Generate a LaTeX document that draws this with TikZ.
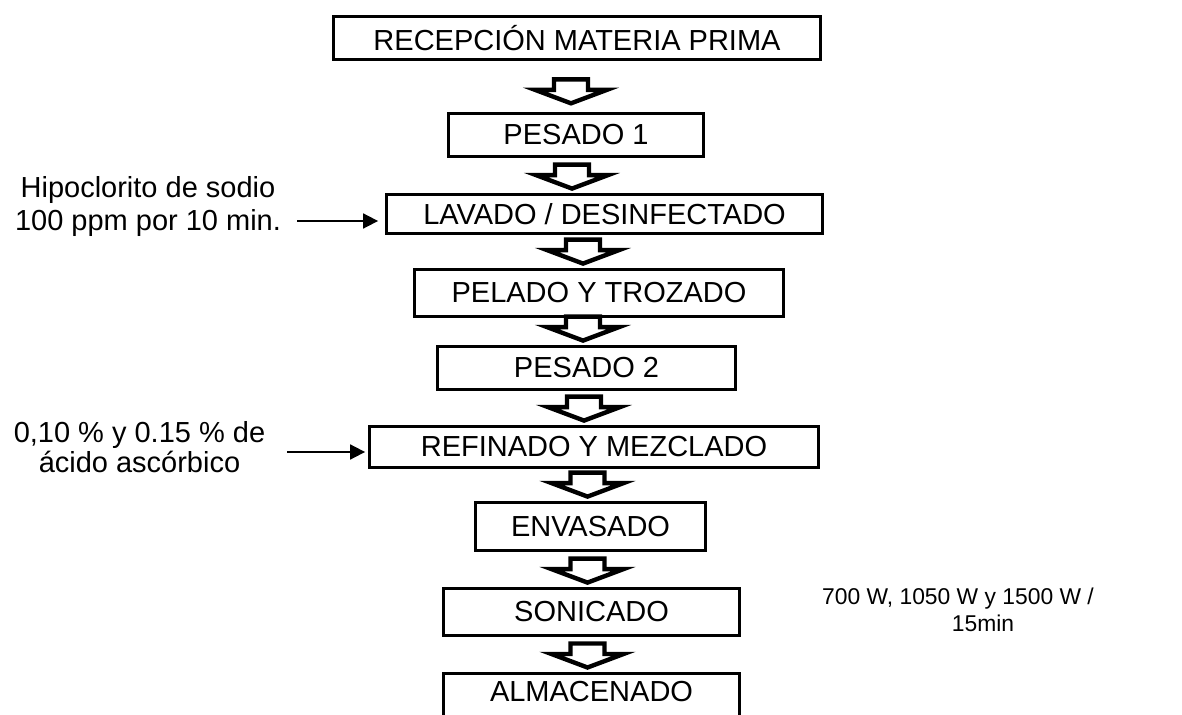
\documentclass[tikz,border=0pt]{standalone}
\usepackage{fontspec}
\setmainfont{Liberation Sans}
\usepackage{tikz}
\usetikzlibrary{arrows.meta,positioning}

% hollow block arrow pointing down onto a node: [gap]{target}{x}
\newcommand{\flowarrow}[3][0.09]{%
  \draw[blockarrow] (#3,0 |- #2.north) ++(0,#1) -- ++(-0.72,0.27) -- ++(0.38,0) -- ++(0,0.21)
    -- ++(0.68,0) -- ++(0,-0.21) -- ++(0.38,0) -- cycle;}

\begin{document}
\begin{tikzpicture}
[procbox/.style={draw=black,line width=1.6pt,inner sep=0pt,font=\fontsize{16.5}{19}\selectfont},
 blockarrow/.style={draw=black,fill=white,line width=2.5pt},
 feed/.style={line width=1pt,-{Triangle[length=0.3cm,width=0.3cm]}},
 note/.style={align=center,inner sep=0pt,font=\fontsize{16.5}{19}\selectfont}]
\clip (0,0) rectangle (23.64,-14.3);

\node[procbox, minimum width=9.74cm, minimum height=0.86cm] (p1) at (11.54,-0.76) {RECEPCIÓN MATERIA PRIMA};
\node[procbox, minimum width=5.1cm, minimum height=0.87cm] (p2) at (11.52,-2.70) {PESADO 1};
\node[procbox, minimum width=8.72cm, minimum height=0.78cm] (p3) at (12.09,-4.28) {LAVADO / DESINFECTADO};
\node[procbox, minimum width=7.38cm, minimum height=0.94cm] (p4) at (11.98,-5.86) {PELADO Y TROZADO};
\node[procbox, minimum width=5.96cm, minimum height=0.86cm] (p5) at (11.73,-7.36) {PESADO 2};
\node[procbox, minimum width=8.98cm, minimum height=0.82cm] (p6) at (11.88,-8.94) {REFINADO Y MEZCLADO};
\node[procbox, minimum width=4.6cm, minimum height=0.96cm] (p7) at (11.81,-10.53) {ENVASADO};
\node[procbox, minimum width=5.92cm, minimum height=0.94cm] (p8) at (11.83,-12.24) {SONICADO};
\node[procbox, minimum width=5.92cm, text height=0.56cm, text depth=0.6cm, anchor=north] (p9) at (11.83,-13.44) {ALMACENADO};

\node[note] (hipo) at (2.96,-4.13) {Hipoclorito de sodio\\100 ppm por 10 min.};
\node[note, font=\fontsize{16.5}{17}\selectfont] (acido) at (2.79,-8.94) {0,10 \% y 0.15 \% de\\ácido ascórbico};
\node[note, font=\fontsize{13}{15.5}\selectfont] (watt) at (19.16,-12.2) {700 W, 1050 W y 1500 W /\\\hspace*{1cm}15min};

\flowarrow[0.17]{p2}{11.42}
\flowarrow{p3}{11.44}
\flowarrow{p4}{11.66}
\flowarrow{p5}{11.66}
\flowarrow{p6}{11.68}
\flowarrow{p7}{11.75}
\flowarrow{p8}{11.75}
\flowarrow{p9}{11.75}

\coordinate (h) at ([yshift=-0.29cm]hipo.east);
\coordinate (a) at ([yshift=-0.1cm]acido.east);
\draw [feed, shorten >=0.14cm] ([xshift=0.32cm]h) -- (h -| p3.west);
\draw [feed, shorten >=0.06cm] ([xshift=0.43cm]a) -- (a -| p6.west);
\end{tikzpicture}
\end{document}
